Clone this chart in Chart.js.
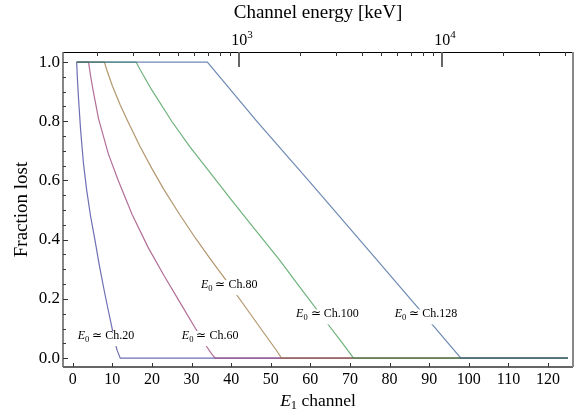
<!DOCTYPE html>
<html><head><meta charset="utf-8">
<script src="https://cdn.jsdelivr.net/npm/chart.js@4/dist/chart.umd.min.js"></script>
<style>html,body{margin:0;padding:0;background:#fff}#wrap{width:582px;height:416px}</style>
</head><body><div id="wrap"><canvas id="c" width="582" height="416"></canvas></div>
<script>
// ---- data ----
const seriesNames = ['Ch.20', 'Ch.60', 'Ch.80', 'Ch.100', 'Ch.128'];
const ch20Channel  = [1, 1.2, 1.5, 2, 2.7, 3.5, 4.5, 5.6, 6.7, 8, 9, 9.8, 10.5, 11.2, 12, 125];
const ch20Fraction = [1, 0.94, 0.87, 0.77, 0.66, 0.57, 0.48, 0.40, 0.315, 0.225, 0.16, 0.11, 0.065, 0.027, 0, 0];
const ch60Channel  = [1, 4, 4.5, 5, 6.5, 9, 11.5, 15, 19, 23, 27, 31, 33.5, 35.2, 36, 125];
const ch60Fraction = [1, 1, 0.955, 0.915, 0.81, 0.69, 0.6, 0.485, 0.375, 0.28, 0.19, 0.1, 0.045, 0.012, 0, 0];
const ch80Channel  = [1, 8, 8.7, 10, 12, 13.9, 17, 20, 23, 27, 31, 35, 40, 44, 48, 51.5, 52.7, 125];
const ch80Fraction = [1, 1, 0.97, 0.92, 0.855, 0.8, 0.715, 0.64, 0.57, 0.485, 0.405, 0.33, 0.24, 0.165, 0.09, 0.025, 0, 0];
const ch100Channel  = [1, 16, 17, 20, 25, 29.5, 34, 40, 46, 52, 58, 64, 68, 70.9, 125];
const ch100Fraction = [1, 1, 0.975, 0.905, 0.8, 0.715, 0.638, 0.535, 0.435, 0.335, 0.228, 0.122, 0.052, 0, 0];
const ch128Channel  = [1, 34, 46.5, 60, 75, 88, 98, 125];
const ch128Fraction = [1, 1, 0.80, 0.593, 0.36, 0.157, 0, 0];

const channelTicks = [0, 10, 20, 30, 40, 50, 60, 70, 80, 90, 100, 110, 120];
const fractionTicks = [0, 0.2, 0.4, 0.6, 0.8, 1.0];
const fractionMinorTicks = [0.05, 0.1, 0.15, 0.25, 0.3, 0.35, 0.45, 0.5, 0.55, 0.65, 0.7, 0.75, 0.85, 0.9, 0.95];
const energyMajorTicks = [1000, 10000];
const energyMajorExponents = ['3', '4'];
const energyMinorTicks = [200, 300, 400, 500, 600, 700, 800, 900, 2000, 3000, 4000, 5000, 6000, 7000, 8000, 9000, 20000, 30000, 40000];

// curve label anchors (data units)
const labelChannel  = [8.4, 34.7, 39.5, 64.3, 89.2];
const labelFraction = [0.078, 0.078, 0.25, 0.151, 0.151];

// ---- styling ----
const colors = ['rgba(61,61,153,0.75)', 'rgba(153,61,116,0.75)', 'rgba(153,116,61,0.75)', 'rgba(61,153,79,0.75)', 'rgba(61,98,153,0.75)'];
const SERIF = '"Liberation Serif", "Times New Roman", serif';

const pairs = (xs, ys) => xs.map((v, i) => ({x: v, y: ys[i]}));
const seriesData = [
  pairs(ch20Channel, ch20Fraction),
  pairs(ch60Channel, ch60Fraction),
  pairs(ch80Channel, ch80Fraction),
  pairs(ch100Channel, ch100Fraction),
  pairs(ch128Channel, ch128Fraction)
];

function drawPieces(ctx, pieces, cx, cy, bg) {
  let w = 0;
  pieces.forEach(p => { ctx.font = p.font; p.w = ctx.measureText(p.t).width; w += p.w; });
  let x = cx - w / 2;
  if (bg) { ctx.fillStyle = '#fff'; ctx.fillRect(x - 2, cy - 8, w + 4, 15); }
  ctx.fillStyle = '#000';
  ctx.textBaseline = 'alphabetic';
  ctx.textAlign = 'left';
  pieces.forEach(p => { ctx.font = p.font; ctx.fillText(p.t, x, cy + (p.dy || 0)); x += p.w; });
}

const framePlugin = {
  id: 'frame',
  afterDatasetsDraw(chart) {
    const ctx = chart.ctx, a = chart.chartArea;
    const xs = chart.scales.x, ys = chart.scales.y, es = chart.scales.energy;
    ctx.save();
    // curve labels with white background
    seriesNames.forEach((n, i) => {
      const px = xs.getPixelForValue(labelChannel[i]);
      const py = ys.getPixelForValue(labelFraction[i]);
      drawPieces(ctx, [
        {t: 'E', font: 'italic 12px ' + SERIF},
        {t: '0', font: '8.5px ' + SERIF, dy: 2.5},
        {t: ' \u2243 ' + n, font: '12px ' + SERIF}
      ], px, py + 4, true);
    });
    // frame
    ctx.lineCap = 'butt';
    ctx.strokeStyle = '#000'; ctx.lineWidth = 1;
    ctx.beginPath(); ctx.moveTo(a.left, a.top + 0.5); ctx.lineTo(a.right, a.top + 0.5); ctx.stroke();
    ctx.strokeStyle = '#333'; ctx.lineWidth = 1.5;
    ctx.beginPath(); ctx.moveTo(a.left, a.bottom); ctx.lineTo(a.right, a.bottom); ctx.stroke();
    ctx.strokeStyle = '#666'; ctx.lineWidth = 1.6;
    ctx.beginPath(); ctx.moveTo(a.left, a.top); ctx.lineTo(a.left, a.bottom); ctx.stroke();
    ctx.strokeStyle = '#888'; ctx.lineWidth = 2;
    ctx.beginPath(); ctx.moveTo(a.right, a.top); ctx.lineTo(a.right, a.bottom); ctx.stroke();
    // y ticks (inward)
    ctx.strokeStyle = '#333'; ctx.lineWidth = 1;
    fractionTicks.forEach(v => { const p = Math.round(ys.getPixelForValue(v)) + 0.5;
      ctx.beginPath(); ctx.moveTo(a.left, p); ctx.lineTo(a.left + 5, p); ctx.stroke(); });
    fractionMinorTicks.forEach(v => { const p = Math.round(ys.getPixelForValue(v)) + 0.5;
      ctx.beginPath(); ctx.moveTo(a.left, p); ctx.lineTo(a.left + 3, p); ctx.stroke(); });
    // x ticks (inward)
    channelTicks.forEach(v => { const p = Math.round(xs.getPixelForValue(v)) + 0.5;
      ctx.beginPath(); ctx.moveTo(p, a.bottom); ctx.lineTo(p, a.bottom - 4); ctx.stroke(); });
    // energy ticks (top, inward)
    energyMinorTicks.forEach(v => { const p = Math.round(es.getPixelForValue(v)) + 0.5;
      ctx.beginPath(); ctx.moveTo(p, a.top); ctx.lineTo(p, a.top + 4); ctx.stroke(); });
    ctx.strokeStyle = '#666'; ctx.lineWidth = 2;
    energyMajorTicks.forEach((v, i) => { const p = Math.round(es.getPixelForValue(v));
      ctx.beginPath(); ctx.moveTo(p, a.top); ctx.lineTo(p, a.top + 15); ctx.stroke();
      drawPieces(ctx, [{t: '10', font: '16px ' + SERIF}, {t: energyMajorExponents[i], font: '11px ' + SERIF, dy: -7}], p + 3, a.top - 7, false);
    });
    // axis titles
    drawPieces(ctx, [{t: 'Channel energy [keV]', font: '19px ' + SERIF}], (a.left + a.right) / 2, 18, false);
    drawPieces(ctx, [
      {t: 'E', font: 'italic 17.5px ' + SERIF},
      {t: '1', font: '12.5px ' + SERIF, dy: 3},
      {t: ' channel', font: '17.5px ' + SERIF}
    ], (a.left + a.right) / 2, 406, false);
    ctx.translate(27, (a.top + a.bottom) / 2);
    ctx.rotate(-Math.PI / 2);
    drawPieces(ctx, [{t: 'Fraction lost', font: '19px ' + SERIF}], 0, 0, false);
    ctx.restore();
  }
};

new Chart(document.getElementById('c'), {
  type: 'line',
  data: {
    datasets: seriesData.map((d, i) => ({
      label: seriesNames[i],
      data: d,
      borderColor: colors[i],
      borderWidth: 1.2,
      pointRadius: 0,
      tension: 0,
      fill: false,
      order: seriesNames.length - i
    }))
  },
  options: {
    responsive: false,
    animation: false,
    devicePixelRatio: 1,
    layout: {padding: {right: 9, left: 0, top: 0, bottom: 0}},
    plugins: {legend: {display: false}, tooltip: {enabled: false}},
    scales: {
      x: {
        type: 'linear', position: 'bottom', min: -2.45, max: 126.3,
        afterBuildTicks: s => { s.ticks = channelTicks.map(v => ({value: v})); },
        afterFit: s => { s.height = 49; },
        grid: {display: false, drawTicks: false},
        border: {display: false},
        ticks: {padding: 3, color: '#000', font: {family: SERIF, size: 16}, maxRotation: 0, autoSkip: false}
      },
      y: {
        type: 'linear', min: -0.03, max: 1.034,
        afterBuildTicks: s => { s.ticks = fractionTicks.map(v => ({value: v})); },
        afterFit: s => { s.width = 63; },
        grid: {display: false, drawTicks: false},
        border: {display: false},
        ticks: {padding: 3, color: '#000', font: {family: SERIF, size: 17}, callback: v => v.toFixed(1)}
      },
      energy: {
        type: 'logarithmic', axis: 'x', position: 'top', min: 135.3, max: 44040,
        afterFit: s => { s.height = 52; },
        grid: {display: false, drawTicks: false},
        border: {display: false},
        ticks: {display: false}
      }
    }
  },
  plugins: [framePlugin]
});
</script></body></html>
